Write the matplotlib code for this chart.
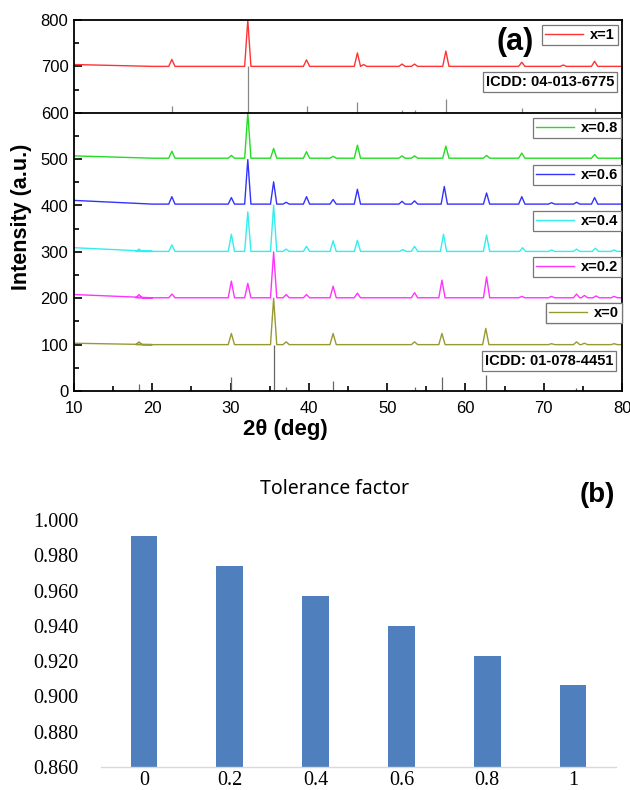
import matplotlib
matplotlib.use('Agg')
import matplotlib.pyplot as plt
from matplotlib.lines import Line2D
from matplotlib.ticker import MultipleLocator

plt.rcParams['font.family'] = ['Liberation Sans', 'DejaVu Sans']

# XRD patterns: flat background level, level at 10 deg, and the peaks (2theta, top intensity)
labels = ['x=1', 'x=0.8', 'x=0.6', 'x=0.4', 'x=0.2', 'x=0']
colors = ['#ff3333', '#22dd22', '#3333ff', '#33eeee', '#ff33ff', '#999933']
base_levels = [700, 502, 403, 301, 201, 100]
left_levels = [704, 507, 411, 309, 208, 103]

peaks_x1 = [(22.5, 715), (32.2, 800), (39.7, 714), (46.2, 729), (47.0, 704), (51.9, 705),
            (53.5, 705), (57.5, 733), (67.2, 709), (72.5, 703), (76.5, 711)]
peaks_x08 = [(22.5, 517), (30.1, 508), (32.2, 600), (35.5, 523), (39.7, 516), (43.1, 506),
             (46.2, 530), (51.9, 507), (53.5, 507), (57.5, 528), (62.7, 508), (67.2, 513),
             (76.5, 510)]
peaks_x06 = [(22.5, 419), (30.1, 417), (32.2, 499), (35.5, 451), (37.1, 407), (39.7, 419),
             (43.1, 413), (46.2, 435), (51.9, 409), (53.5, 410), (57.3, 441), (62.7, 427),
             (67.2, 419), (71.0, 406), (74.2, 407), (76.5, 417)]
peaks_x04 = [(18.3, 306), (22.5, 315), (30.1, 338), (32.2, 386), (35.5, 401), (37.1, 306),
             (39.7, 312), (43.1, 324), (46.2, 325), (52.0, 305), (53.5, 312), (57.2, 338),
             (62.7, 336), (67.3, 309), (71.0, 304), (74.2, 306), (76.6, 308), (79.0, 304)]
peaks_x02 = [(18.3, 208), (22.5, 209), (30.1, 237), (32.2, 232), (35.5, 300), (37.1, 208),
             (39.7, 208), (43.1, 226), (46.2, 211), (53.5, 212), (57.0, 239), (62.7, 246),
             (67.2, 204), (71.0, 204), (74.2, 209), (75.2, 206), (76.7, 205), (79.0, 204)]
peaks_x0 = [(18.3, 106), (30.1, 124), (35.5, 200), (37.1, 106), (43.1, 124), (53.5, 106),
            (57.0, 124), (62.6, 135), (71.0, 102), (74.2, 106), (75.2, 103), (79.0, 102)]
all_peaks = [peaks_x1, peaks_x08, peaks_x06, peaks_x04, peaks_x02, peaks_x0]

# reference cards (stick positions and heights)
icdd_top_pos = [22.5, 32.2, 39.7, 46.2, 51.9, 53.5, 57.5, 67.2, 76.6]
icdd_top_h = [15, 100, 15, 24, 6, 6, 30, 11, 11]
icdd_bot_pos = [18.3, 30.1, 35.5, 37.1, 43.1, 53.5, 57.0, 62.6, 74.1]
icdd_bot_h = [15, 31, 100, 9, 21, 9, 31, 34, 6]

# tolerance factor
comp = ['0', '0.2', '0.4', '0.6', '0.8', '1']
tol = [0.9908, 0.9739, 0.9571, 0.9400, 0.9230, 0.9066]


def pattern(left, base, peaks, hw=0.4):
    xs, ys = [10, 20], [left, base]
    for p, h in peaks:
        xs += [p - hw, p, p + hw]
        ys += [base, h, base]
    xs.append(80)
    ys.append(base)
    return xs, ys


W, H = 630, 790
fig = plt.figure(figsize=(6.3, 7.9), dpi=100)

ax = fig.add_axes([74 / W, 1 - 391 / H, 548 / W, 371 / H])
for lab, col, base, left, pk in zip(labels, colors, base_levels, left_levels, all_peaks):
    xs, ys = pattern(left, base, pk)
    ax.plot(xs, ys, color=col, lw=1.0)
ax.vlines(icdd_top_pos, 600, [600 + h for h in icdd_top_h], color='#888888', lw=0.9)
ax.vlines(icdd_bot_pos, 0, icdd_bot_h, color='#666666', lw=0.9)
ax.axhline(600, color='black', lw=1.3)

ax.set_xlim(10, 80)
ax.set_ylim(0, 800)
ax.xaxis.set_major_locator(MultipleLocator(10))
ax.xaxis.set_minor_locator(MultipleLocator(5))
ax.yaxis.set_major_locator(MultipleLocator(100))
ax.yaxis.set_minor_locator(MultipleLocator(50))
ax.tick_params(which='both', direction='in', labelsize=12, width=1.2)
ax.tick_params(which='major', length=6)
ax.tick_params(which='minor', length=3.5)
ax.tick_params(axis='x', pad=7)
ax.tick_params(axis='y', pad=4)
for s in ax.spines.values():
    s.set_linewidth(1.3)
ax.set_xlabel('2θ (deg)', fontsize=16, fontweight='bold')
ax.set_ylabel('Intensity (a.u.)', fontsize=15.5, fontweight='bold')
ax.xaxis.set_label_coords(0.385, -0.075)
ax.yaxis.set_label_coords(-0.077, 0.47)

fig.text(515 / W, 1 - 42 / H, '(a)', fontsize=22, fontweight='bold', ha='center', va='center')

# legend boxes (centre in figure pixels)
leg_pos = [(580, 35), (577, 128), (577, 175), (577, 221), (577, 267), (584, 313)]
for lab, col, (cx, cy) in zip(labels, colors, leg_pos):
    h = Line2D([], [], color=col, lw=1.0)
    lg = ax.legend(handles=[h], labels=[lab], loc='center', bbox_to_anchor=(cx / W, 1 - cy / H),
                   bbox_transform=fig.transFigure, frameon=True, fancybox=False,
                   edgecolor='#777777', framealpha=1, handlelength=2.6, handletextpad=0.5,
                   borderpad=0.2, prop={'weight': 'bold', 'size': 10.5})
    lg.get_frame().set_linewidth(0.9)
    ax.add_artist(lg)

for txt, (cx, cy) in [('ICDD: 04-013-6775', (550, 82)), ('ICDD: 01-078-4451', (549, 361))]:
    fig.text(cx / W, 1 - cy / H, txt, fontsize=10.5, fontweight='bold', ha='center', va='center',
             bbox=dict(boxstyle='square,pad=0.2', fc='white', ec='#777777', lw=0.9))

# (b) tolerance factor
bx = fig.add_axes([101 / W, 1 - 767 / H, 515 / W, 247 / H])
bx.bar(range(len(comp)), tol, width=0.31, color='#4f7fbc', bottom=0)
bx.set_ylim(0.86, 1.0)
bx.set_xlim(-0.5, len(comp) - 0.5)
bx.set_xticks(range(len(comp)))
bx.set_xticklabels(comp)
bx.set_yticks([0.86 + 0.02 * i for i in range(8)])
bx.set_yticklabels(['%.3f' % (0.86 + 0.02 * i) for i in range(8)])
for t in bx.get_xticklabels() + bx.get_yticklabels():
    t.set_family('Liberation Serif')
    t.set_fontsize(14.5)
bx.tick_params(length=0)
bx.tick_params(axis='y', pad=16)
bx.tick_params(axis='x', pad=3)
for s in ['left', 'right', 'top']:
    bx.spines[s].set_visible(False)
bx.spines['bottom'].set_color('#d9d9d9')
bx.spines['bottom'].set_linewidth(1.0)
fig.text(335 / W, 1 - 489 / H, 'Tolerance factor', fontsize=14, family='Noto Sans',
         ha='center', va='center')
fig.text(597 / W, 1 - 495 / H, '(b)', fontsize=20, fontweight='bold', ha='center', va='center')

fig.savefig('out.png', dpi=100)
